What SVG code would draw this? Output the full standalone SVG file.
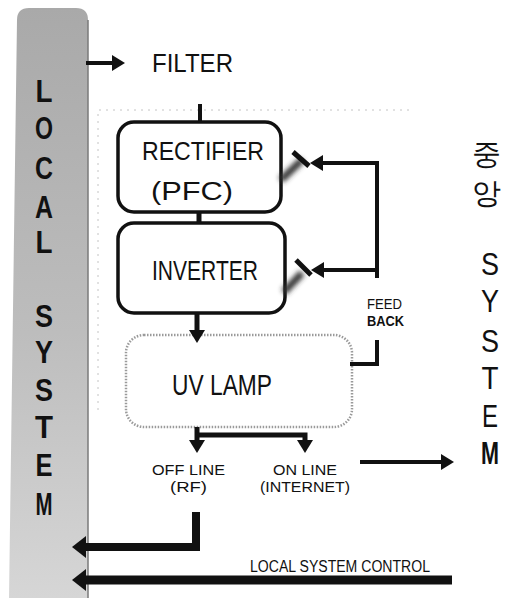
<svg xmlns="http://www.w3.org/2000/svg" width="508" height="598" viewBox="0 0 508 598">
<style>
.lbl{font-family:"Liberation Sans","DejaVu Sans",sans-serif;fill:#111;}
.bar{font-family:"Liberation Sans","DejaVu Sans",sans-serif;font-size:31px;font-weight:bold;fill:#111;text-anchor:middle;}
.col{font-family:"Liberation Sans","DejaVu Sans",sans-serif;font-size:32px;fill:#111;text-anchor:middle;}
.box{fill:#fff;stroke:#111;stroke-width:3.5;}
.ln{fill:none;stroke:#111;stroke-linejoin:miter;stroke-linecap:butt;}
</style>
<defs>
<linearGradient id="gbar" x1="0" y1="0" x2="0" y2="1">
<stop offset="0" stop-color="#a9a9a9"/>
<stop offset="0.55" stop-color="#bdbdbd"/>
<stop offset="1" stop-color="#d6d6d6"/>
</linearGradient>
<filter id="blur" x="-50%" y="-50%" width="200%" height="200%"><feGaussianBlur stdDeviation="2.5"/></filter>
<marker id="ah" markerUnits="userSpaceOnUse" markerWidth="13" markerHeight="16" refX="0" refY="8" orient="auto">
<path d="M0,0 L13,8 L0,16 Z" fill="#111"/>
</marker>
<marker id="ahb" markerUnits="userSpaceOnUse" markerWidth="14" markerHeight="22" refX="0" refY="11" orient="auto">
<path d="M0,0 L14,11 L0,22 Z" fill="#111"/>
</marker>
</defs>
<rect width="508" height="598" fill="#fff"/>

<g id="local-system">
<path d="M88,598 V20 Q88,8 76,8 H29 Q17,8 17,20 L9,598 Z" fill="url(#gbar)"/>
<path d="M88,20 V598" stroke="#7a7a7a" stroke-width="1.5" fill="none"/>
<text class="bar" x="44" y="102" textLength="17" lengthAdjust="spacingAndGlyphs">L</text>
<text class="bar" x="44" y="139" textLength="18" lengthAdjust="spacingAndGlyphs">O</text>
<text class="bar" x="44" y="179" textLength="18" lengthAdjust="spacingAndGlyphs">C</text>
<text class="bar" x="44" y="218" textLength="18" lengthAdjust="spacingAndGlyphs">A</text>
<text class="bar" x="44" y="253" textLength="17" lengthAdjust="spacingAndGlyphs">L</text>
<text class="bar" x="44" y="327" textLength="18" lengthAdjust="spacingAndGlyphs">S</text>
<text class="bar" x="44" y="363" textLength="18" lengthAdjust="spacingAndGlyphs">Y</text>
<text class="bar" x="44" y="401" textLength="18" lengthAdjust="spacingAndGlyphs">S</text>
<text class="bar" x="44" y="438" textLength="18" lengthAdjust="spacingAndGlyphs">T</text>
<text class="bar" x="44" y="476" textLength="17" lengthAdjust="spacingAndGlyphs">E</text>
<text class="bar" x="44" y="515" textLength="17" lengthAdjust="spacingAndGlyphs">M</text>
</g>

<g id="frame">
<path d="M98,410 V110 H410" fill="none" stroke="#c4c4c4" stroke-width="1" stroke-dasharray="2 5"/>
</g>

<g id="filter">
<text class="lbl" x="152" y="72" font-size="26" textLength="81" lengthAdjust="spacingAndGlyphs">FILTER</text>
</g>

<g id="rectifier">
<rect class="box" x="118" y="122" width="163" height="90" rx="16"/>
<text class="lbl" x="142" y="160" font-size="26" textLength="122" lengthAdjust="spacingAndGlyphs">RECTIFIER</text>
<text class="lbl" x="151" y="200" font-size="26" textLength="82" lengthAdjust="spacingAndGlyphs">(PFC)</text>
</g>

<g id="inverter">
<rect class="box" x="118" y="223" width="167" height="90" rx="16"/>
<text class="lbl" x="152" y="280" font-size="28" textLength="106" lengthAdjust="spacingAndGlyphs">INVERTER</text>
</g>

<g id="uv-lamp">
<rect x="126" y="335" width="226" height="92" rx="18" fill="#fff" stroke="#9a9a9a" stroke-width="2.5" stroke-dasharray="1.5 1.5"/>
<path d="M350,345 V375" stroke="#8a8a8a" stroke-width="3" filter="url(#blur)"/>
<text class="lbl" x="172" y="395" font-size="29" textLength="100" lengthAdjust="spacingAndGlyphs">UV LAMP</text>
</g>

<g id="feedback-label">
<text class="lbl" x="367" y="309" font-size="14" textLength="35" lengthAdjust="spacingAndGlyphs">FEED</text>
<text class="lbl" x="367" y="326" font-size="14" font-weight="bold" textLength="37" lengthAdjust="spacingAndGlyphs">BACK</text>
</g>

<g id="outputs">
<text class="lbl" x="152" y="475" font-size="15" textLength="73" lengthAdjust="spacingAndGlyphs">OFF LINE</text>
<text class="lbl" x="170" y="492" font-size="15" textLength="37" lengthAdjust="spacingAndGlyphs">(RF)</text>
<text class="lbl" x="273" y="475" font-size="15" textLength="64" lengthAdjust="spacingAndGlyphs">ON LINE</text>
<text class="lbl" x="260" y="492" font-size="15" textLength="90" lengthAdjust="spacingAndGlyphs">(INTERNET)</text>
</g>

<g id="central-system">
<text class="lbl" x="486" y="164" font-size="29" text-anchor="middle" font-family="'Noto Sans CJK KR','Liberation Sans',sans-serif">중</text>
<text class="lbl" x="486" y="203" font-size="29" text-anchor="middle" font-family="'Noto Sans CJK KR','Liberation Sans',sans-serif">앙</text>
<text class="col" x="490" y="275" textLength="18" lengthAdjust="spacingAndGlyphs">S</text>
<text class="col" x="490" y="312" textLength="18" lengthAdjust="spacingAndGlyphs">Y</text>
<text class="col" x="490" y="352" textLength="18" lengthAdjust="spacingAndGlyphs">S</text>
<text class="col" x="490" y="389" textLength="17" lengthAdjust="spacingAndGlyphs">T</text>
<text class="col" x="490" y="427" textLength="16" lengthAdjust="spacingAndGlyphs">E</text>
<text class="col" x="490" y="464" font-weight="bold" textLength="18" lengthAdjust="spacingAndGlyphs">M</text>
</g>

<g id="control-label">
<text class="lbl" x="250" y="572" font-size="16" textLength="180" lengthAdjust="spacingAndGlyphs">LOCAL SYSTEM CONTROL</text>
</g>

<g id="connectors">
<path class="ln" d="M86,63 H112" stroke-width="4" marker-end="url(#ah)"/>
<path class="ln" d="M200,104 V122" stroke-width="4"/>
<path class="ln" d="M199,212 V223" stroke-width="5"/>
<path class="ln" d="M197,313 V330" stroke-width="5" marker-end="url(#ah)"/>
<path class="ln" d="M377,278 V163 H323" stroke-width="4" marker-end="url(#ah)"/>
<path class="ln" d="M377,270 H324" stroke-width="4" marker-end="url(#ah)"/>
<path d="M281,180 L302,160" stroke="#333" stroke-width="7" filter="url(#blur)"/>
<path d="M293,152 L309,166" stroke="#111" stroke-width="5"/>
<path d="M284,292 L302,273" stroke="#333" stroke-width="7" filter="url(#blur)"/>
<path d="M296,260 L311,275" stroke="#111" stroke-width="5"/>
<path class="ln" d="M350,364 H377 V340" stroke-width="4"/>
<path class="ln" d="M197,427 V440" stroke-width="5" marker-end="url(#ah)"/>
<path class="ln" d="M197,435 H305 V440" stroke-width="5" marker-end="url(#ah)"/>
<path class="ln" d="M360,462 H441" stroke-width="4" marker-end="url(#ah)"/>
<path class="ln" d="M196,512 V547 H86" stroke-width="8" marker-end="url(#ahb)"/>
<path class="ln" d="M452,580 H86" stroke-width="9" marker-end="url(#ahb)"/>
</g>
</svg>
